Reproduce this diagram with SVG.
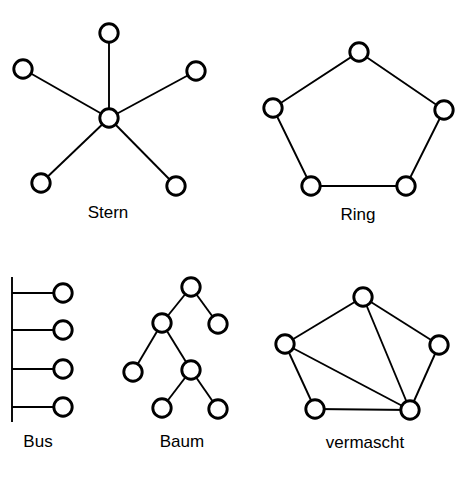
<svg xmlns="http://www.w3.org/2000/svg" width="474" height="485" viewBox="0 0 474 485">
<style>
.n{fill:#fff;stroke:#000;stroke-width:2.9}
.e{stroke:#000;stroke-width:1.9;fill:none}
.t{font-family:"Liberation Sans",Arial,sans-serif;font-size:17px;fill:#000;text-anchor:middle}
</style>
<rect width="474" height="485" fill="#fff"/>
<g id="connectors">
<!-- Stern -->
<line class="e" x1="109" y1="118" x2="109" y2="33"/>
<line class="e" x1="109" y1="118" x2="23" y2="69"/>
<line class="e" x1="109" y1="118" x2="196" y2="71"/>
<line class="e" x1="109" y1="118" x2="41" y2="183"/>
<line class="e" x1="109" y1="118" x2="176" y2="186"/>
<!-- Ring -->
<polygon class="e" points="359,52 444,110 406,186 311,186 273,108"/>
<!-- Bus -->
<line class="e" x1="12" y1="277" x2="12" y2="422"/>
<line class="e" x1="12" y1="293" x2="63" y2="293"/>
<line class="e" x1="12" y1="330" x2="63" y2="330"/>
<line class="e" x1="12" y1="369" x2="63" y2="369"/>
<line class="e" x1="12" y1="407" x2="63" y2="407"/>
<!-- Baum -->
<line class="e" x1="191" y1="287" x2="162" y2="323"/>
<line class="e" x1="191" y1="287" x2="218" y2="324"/>
<line class="e" x1="162" y1="323" x2="133" y2="372"/>
<line class="e" x1="162" y1="323" x2="191" y2="370"/>
<line class="e" x1="191" y1="370" x2="162" y2="408"/>
<line class="e" x1="191" y1="370" x2="218" y2="409"/>
<!-- vermascht -->
<line class="e" x1="363" y1="297" x2="285" y2="344"/>
<line class="e" x1="363" y1="297" x2="439" y2="345"/>
<line class="e" x1="363" y1="297" x2="410" y2="410"/>
<line class="e" x1="285" y1="344" x2="410" y2="410"/>
<line class="e" x1="285" y1="344" x2="315" y2="409"/>
<line class="e" x1="315" y1="409" x2="410" y2="410"/>
<line class="e" x1="439" y1="345" x2="410" y2="410"/>
</g>
<g id="stern">
<circle id="s0" class="n" cx="109" cy="118" r="9.2"/>
<circle id="s1" class="n" cx="109" cy="33" r="9.2"/>
<circle id="s2" class="n" cx="23" cy="69" r="9.2"/>
<circle id="s3" class="n" cx="196" cy="71" r="9.2"/>
<circle id="s4" class="n" cx="41" cy="183" r="9.2"/>
<circle id="s5" class="n" cx="176" cy="186" r="9.2"/>
<text class="t" x="108" y="218">Stern</text>
</g>
<g id="ring">
<circle id="r1" class="n" cx="359" cy="52" r="9.2"/>
<circle id="r2" class="n" cx="444" cy="110" r="9.2"/>
<circle id="r3" class="n" cx="406" cy="186" r="9.2"/>
<circle id="r4" class="n" cx="311" cy="186" r="9.2"/>
<circle id="r5" class="n" cx="273" cy="108" r="9.2"/>
<text class="t" x="358" y="220">Ring</text>
</g>
<g id="bus">
<circle id="b1" class="n" cx="63" cy="293" r="9.2"/>
<circle id="b2" class="n" cx="63" cy="330" r="9.2"/>
<circle id="b3" class="n" cx="63" cy="369" r="9.2"/>
<circle id="b4" class="n" cx="63" cy="407" r="9.2"/>
<text class="t" x="38" y="447">Bus</text>
</g>
<g id="baum">
<circle id="t1" class="n" cx="191" cy="287" r="9.2"/>
<circle id="t2" class="n" cx="162" cy="323" r="9.2"/>
<circle id="t3" class="n" cx="218" cy="324" r="9.2"/>
<circle id="t4" class="n" cx="133" cy="372" r="9.2"/>
<circle id="t5" class="n" cx="191" cy="370" r="9.2"/>
<circle id="t6" class="n" cx="162" cy="408" r="9.2"/>
<circle id="t7" class="n" cx="218" cy="409" r="9.2"/>
<text class="t" x="182" y="447">Baum</text>
</g>
<g id="vermascht">
<circle id="v1" class="n" cx="363" cy="297" r="9.2"/>
<circle id="v2" class="n" cx="285" cy="344" r="9.2"/>
<circle id="v3" class="n" cx="439" cy="345" r="9.2"/>
<circle id="v4" class="n" cx="315" cy="409" r="9.2"/>
<circle id="v5" class="n" cx="410" cy="410" r="9.2"/>
<text class="t" x="365" y="448">vermascht</text>
</g>
</svg>
